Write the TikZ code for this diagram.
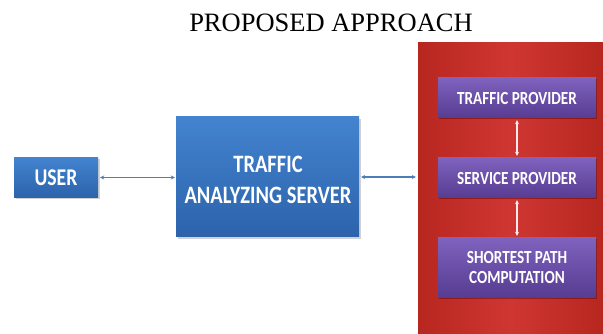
\documentclass[tikz,border=0pt]{standalone}
\usepackage{fontspec}
\setmainfont{Liberation Serif}
\newfontfamily\boxfont[FakeStretch=0.82]{Carlito}
\usetikzlibrary{arrows.meta,shadows}
\definecolor{bluetop}{HTML}{4383CF}
\definecolor{bluebot}{HTML}{2C63AB}
\definecolor{purptop}{HTML}{7E62BD}
\definecolor{purpbot}{HTML}{573C92}
\definecolor{redmid}{HTML}{CF3632}
\definecolor{rededge}{HTML}{B7271F}
\definecolor{arrowblue}{HTML}{4F7DB8}
\tikzset{
  bluebox/.style={draw=none, top color=bluetop, bottom color=bluebot, text=white,
    font=\boxfont\bfseries, align=center, inner sep=0pt,
    drop shadow={shadow xshift=1.5pt, shadow yshift=-2pt, opacity=0.35, fill=gray}},
  purpbox/.style={draw=none, top color=purptop, bottom color=purpbot, text=white,
    font=\boxfont\bfseries\fontsize{18.5}{22}\selectfont, align=center, inner sep=0pt,
    minimum width=158pt,
    drop shadow={shadow xshift=1.2pt, shadow yshift=-1.5pt, opacity=0.4, fill=black!70!red}},
  boxtext/.style={text=white, align=center, inner sep=0pt},
  hlink/.style={draw=arrowblue, line width=1.2pt, {Stealth[length=4pt,width=4pt]}-{Stealth[length=4pt,width=4pt]}},
  vlink/.style={draw=white!92!red, line width=1.1pt, {Stealth[length=4pt,width=4pt]}-{Stealth[length=4pt,width=4pt]}}
}
\begin{document}
\begin{tikzpicture}[x=1pt,y=-1pt]
\useasboundingbox (0,0) rectangle (603,334);
\fill[white] (0,0) rectangle (603,334);
\node[font=\fontsize{26.5}{30}\selectfont, anchor=base] (title) at (331,32) {PROPOSED APPROACH};
\node[draw=none, inner sep=0pt, minimum width=185pt, minimum height=291pt,
  left color=rededge, right color=rededge, middle color=redmid] (panel) at (510.5,188.5) {};
\node[bluebox, minimum width=84pt, minimum height=40pt, font=\boxfont\bfseries\fontsize{24}{26}\selectfont] (user) at (56,177.5) {USER};
\node[bluebox, minimum width=183pt, minimum height=120pt] (server) at (267.5,177) {};
\node[boxtext, font=\boxfont\bfseries\fontsize{25}{31}\selectfont] (servertext) at (268,180) {TRAFFIC\\ANALYZING SERVER};
\node[purpbox, minimum height=40pt] (traffic) at (517,98) {TRAFFIC PROVIDER};
\node[purpbox, minimum height=40pt] (service) at (517,178) {SERVICE PROVIDER};
\node[purpbox, minimum height=59pt, font=\boxfont\bfseries\fontsize{18.5}{20.5}\selectfont] (shortest) at (517,267.5) {SHORTEST PATH\\COMPUTATION};
\draw[hlink, shorten <=2pt, shorten >=1pt] (user.east) -- (server.west |- user.east);
\draw[hlink, shorten <=2pt, shorten >=2pt] (server.east) -- (server.east -| panel.west);
\draw[vlink, shorten <=2pt, shorten >=2pt] (traffic.south) -- (service.north);
\draw[vlink, shorten <=2pt, shorten >=2pt] (service.south) -- (shortest.north);
\end{tikzpicture}
\end{document}
